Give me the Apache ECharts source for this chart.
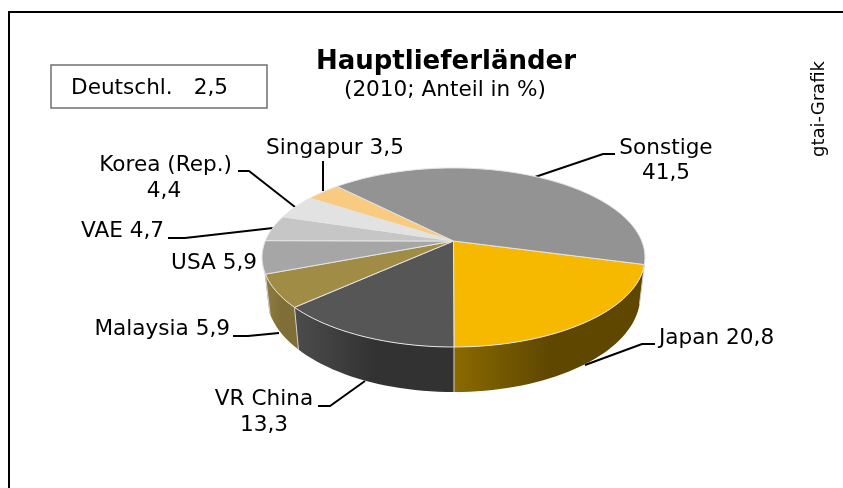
<!DOCTYPE html>
<html>
<head>
<meta charset="utf-8">
<style>html,body{margin:0;padding:0;background:#fff}#chart{width:843px;height:488px}</style>
<script src="https://cdn.jsdelivr.net/npm/echarts@6/dist/echarts.min.js"></script>
</head>
<body>
<div id="chart"></div>
<script>
// Pie data, clockwise starting with Japan
var names = ['Japan', 'VR China', 'Malaysia', 'USA', 'VAE', 'Korea (Rep.)', 'Singapur', 'Sonstige'];
var values = [20.8, 13.3, 5.9, 5.9, 4.7, 4.4, 3.5, 41.5];
var boxName = 'Deutschl.';
var boxValue = 2.5;

var topColors = ['#f6b900', '#565656', '#a08c45', '#a6a6a6', '#c6c6c6', '#e2e2e2', '#f8cb80', '#939393'];
var wallFrom = ['#8a6a00', '#4c4c4c', '#8f7d3f', '#888888', '#888888', '#888888', '#888888', '#777777'];
var wallTo = ['#5f4700', '#323232', '#7f6e35', '#888888', '#888888', '#888888', '#888888', '#777777'];

// label layout: [text, anchor x, y, align]
function num(v) { return String(v).replace('.', ','); }
var labels = [
  [names[7], 666, 148, 'center'], [num(values[7]), 666, 173, 'center'],
  [names[0] + ' ' + num(values[0]), 659, 338, 'left'],
  [names[1], 264, 399, 'center'], [num(values[1]), 264, 425, 'center'],
  [names[2] + ' ' + num(values[2]), 230, 329, 'right'],
  [names[3] + ' ' + num(values[3]), 257, 263, 'right'],
  [names[4] + ' ' + num(values[4]), 164, 231, 'right'],
  [names[5], 232, 165, 'right'], [num(values[5]), 164, 191, 'center'],
  [names[6] + ' ' + num(values[6]), 335, 148, 'center']
];
var leaders = [
  [[535, 177], [603, 154], [615, 154]],
  [[585, 365], [642, 344], [655, 344]],
  [[365, 381], [330, 406], [318, 406]],
  [[279, 333], [248, 336], [233, 336]],
  [[273, 228], [185, 238], [168, 238]],
  [[295, 207], [249, 171], [238, 171]],
  [[323, 191], [323, 161]]
];

// cumulative slice angles, degrees clockwise from 12 o'clock
var total = values.reduce(function (a, b) { return a + b; }, 0);
var startAngle = 105;
var angles = [];
var acc = startAngle;
values.forEach(function (v) {
  angles.push([acc, acc + v / total * 360]);
  acc += v / total * 360;
});

// perspective disc
var CX = 453.5, CY = 241, A = 188.2, B = 86.5, K = 0.184;
function topPoint(deg) {
  var r = deg * Math.PI / 180;
  var u = Math.sin(r), v = -Math.cos(r), w = 1 - K * v;
  return [CX + A * u / w, CY + B * v / w];
}
function bottomPoint(deg) {
  var p = topPoint(deg);
  return [CX + (p[0] - CX) * 0.975, CY + (p[1] - CY) * 1.07 + 37.6];
}
function arc(fn, a0, a1) {
  var pts = [];
  var n = Math.max(2, Math.ceil((a1 - a0) / 2));
  for (var i = 0; i <= n; i++) pts.push(fn(a0 + (a1 - a0) * i / n));
  return pts;
}

var WALL_MIN = 100, WALL_MAX = 250.5;

function renderWall(params) {
  var i = params.dataIndex;
  var a0 = Math.max(angles[i][0], WALL_MIN), a1 = Math.min(angles[i][1], WALL_MAX);
  if (a1 <= a0) return { type: 'group', children: [] };
  var pts = arc(topPoint, a0, a1).concat(arc(bottomPoint, a0, a1).reverse());
  return {
    type: 'group',
    children: [{
      type: 'polygon',
      shape: { points: pts },
      style: {
        fill: new echarts.graphic.LinearGradient(0, 0, 1, 0, [
          { offset: 0, color: wallFrom[i] },
          { offset: 0.5, color: wallTo[i] },
          { offset: 1, color: wallTo[i] }
        ])
      }
    }, {
      type: 'line',
      shape: {
        x1: topPoint(a0)[0], y1: topPoint(a0)[1],
        x2: bottomPoint(a0)[0], y2: bottomPoint(a0)[1]
      },
      style: { stroke: '#cfcfcf', lineWidth: 1 }
    }]
  };
}

function renderTop(params) {
  var i = params.dataIndex;
  var pts = [[CX, CY]].concat(arc(topPoint, angles[i][0], angles[i][1]));
  return {
    type: 'polygon',
    shape: { points: pts },
    style: { fill: topColors[i], stroke: '#e4e4e4', lineWidth: 1, lineJoin: 'round' }
  };
}

var LABEL_FONT = '21.6px "DejaVu Sans"';
var graphics = [
  { type: 'line', shape: { x1: 9, y1: 12, x2: 843, y2: 12 }, style: { stroke: '#000', lineWidth: 2 } },
  { type: 'line', shape: { x1: 9, y1: 11, x2: 9, y2: 488 }, style: { stroke: '#000', lineWidth: 2 } },
  { type: 'rect', shape: { x: 51, y: 65, width: 216, height: 43 }, style: { fill: '#fff', stroke: '#707070', lineWidth: 1.5 } },
  { type: 'text', x: 71, y: 88, style: { text: boxName, font: LABEL_FONT, fill: '#000', verticalAlign: 'middle' } },
  { type: 'text', x: 228, y: 88, style: { text: num(boxValue), font: LABEL_FONT, fill: '#000', align: 'right', verticalAlign: 'middle' } },
  { type: 'text', x: 446, y: 62.5, style: { text: 'Hauptlieferländer', font: 'bold 26px "DejaVu Sans"', fill: '#000', align: 'center', verticalAlign: 'middle' } },
  { type: 'text', x: 445, y: 90, style: { text: '(2010; Anteil in %)', font: LABEL_FONT, fill: '#000', align: 'center', verticalAlign: 'middle' } },
  { type: 'text', x: 819, y: 109, rotation: Math.PI / 2, style: { text: 'gtai-Grafik', font: '18px "DejaVu Sans"', fill: '#000', align: 'center', verticalAlign: 'middle' } }
];
leaders.forEach(function (pts) {
  graphics.push({ type: 'polyline', shape: { points: pts }, style: { fill: null, stroke: '#000', lineWidth: 2 } });
});
labels.forEach(function (l) {
  graphics.push({ type: 'text', x: l[1], y: l[2], style: { text: l[0], font: LABEL_FONT, fill: '#000', align: l[3], verticalAlign: 'middle' } });
});

var chart = echarts.init(document.getElementById('chart'));
chart.setOption({
  animation: false,
  backgroundColor: '#fff',
  graphic: graphics,
  series: [
    { type: 'custom', coordinateSystem: 'none', silent: true, data: values, renderItem: renderWall, z: 1 },
    { type: 'custom', coordinateSystem: 'none', silent: true, data: values, renderItem: renderTop, z: 2 }
  ]
});
</script>
</body>
</html>
